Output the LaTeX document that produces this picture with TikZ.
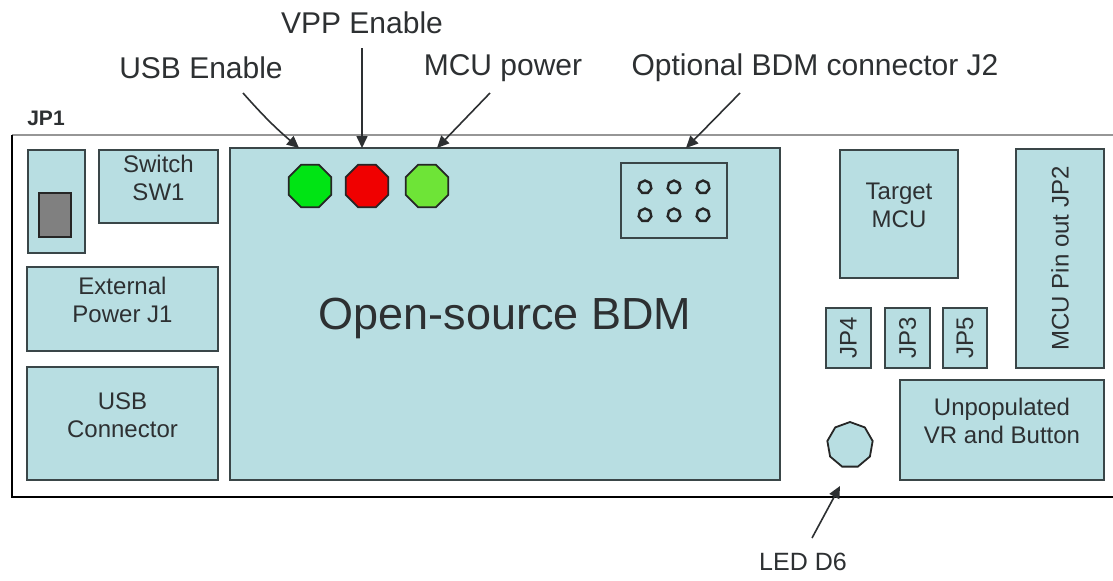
\documentclass[tikz,border=0pt]{standalone}
\usepackage{fontspec}
\setmainfont{Liberation Sans}
\usetikzlibrary{fit,shapes.geometric,arrows.meta,calc}
\definecolor{boxfill}{RGB}{184,222,226}
\definecolor{boxline}{RGB}{58,70,72}
\definecolor{txtc}{RGB}{45,48,50}
\definecolor{boardtop}{RGB}{150,150,150}
\definecolor{ledgreen}{RGB}{0,228,20}
\definecolor{ledred}{RGB}{240,0,0}
\definecolor{ledlime}{RGB}{110,228,55}
\definecolor{swgray}{RGB}{128,128,128}
\begin{document}
\begin{tikzpicture}[x=0.5pt,y=-0.5pt,
  comp/.style={draw=boxline, fill=boxfill, line width=1pt, inner sep=0pt, outer sep=0pt,
    align=center, text=txtc, font=\fontsize{12}{14}\selectfont},
  rotlbl/.style={rotate=90, text=txtc, font=\fontsize{12}{14}\selectfont},
  lbl/.style={text=txtc, font=\fontsize{15}{18}\selectfont, inner sep=1pt},
  led/.style={regular polygon, regular polygon sides=8, minimum size=23pt, draw=black!85, line width=0.9pt, inner sep=0pt},
  pin/.style={regular polygon, regular polygon sides=7, minimum size=6.5pt, inner sep=0pt, draw=black!85, line width=1.2pt, fill=boxfill},
  arr/.style={draw=txtc, line width=0.8pt, -{Triangle[length=6pt,width=5.5pt]}}]
\useasboundingbox (0,0) rectangle (1113,580);
\fill[white] (0,0) rectangle (1113,580);
% board outline
\coordinate (btl) at (12,135);
\coordinate (btr) at (1113,135);
\coordinate (bbl) at (12,497);
\coordinate (bbr) at (1113,497);
\draw[boardtop, line width=1pt] (btl) -- (btr);
\draw[black, line width=1pt] (btl) -- (bbl) -- (bbr);
\node[font=\bfseries\fontsize{10.5}{12}\selectfont, text=txtc] (jp1l) at (46,118) {JP1};
% left column
\node[comp, fit={(28,150) (85,253)}] (jp1) {};
\node[draw=black!85, fill=swgray, line width=1pt, inner sep=0pt, fit={(39,193) (71,237)}] (jp1k) {};
\node[comp, fit={(99,150) (218,223)}] (sw1) {Switch\\SW1};
\node[comp, fit={(27,267) (218,351)}] (j1) {External\\Power J1};
\node[comp, fit={(27,367) (218,480)}] (usb) {USB\\Connector};
% BDM
\node[comp, fit={(230,148) (780,480)}] (bdm) {};
\node[text=txtc, font=\fontsize{22.5}{26}\selectfont] (bdml) at (505,318) {Open-source BDM};
\node[led, fill=ledgreen] (ledA) at (310,186) {};
\node[led, fill=ledred] (ledB) at (367,186) {};
\node[led, fill=ledlime] (ledC) at (427,186) {};
\node[comp, fit={(621,163) (727,238)}] (j2) {};
\foreach \i/\x in {1/645,2/674,3/703}{
  \node[pin] (pa\i) at (\x,187) {};
  \node[pin] (pb\i) at (\x,215) {};
}
% right part
\node[comp, fit={(840,150) (958,278)}] (mcu) {Target\\MCU};
\node[comp, fit={(1016,149) (1104,368)}] (jp2) {};
\node[rotlbl] (jp2l) at (jp2.center) {MCU Pin out JP2};
\node[comp, fit={(826,308) (871,368)}] (jp4) {};
\node[rotlbl] at (jp4.center) {JP4};
\node[comp, fit={(885,308) (930,368)}] (jp3) {};
\node[rotlbl] at (jp3.center) {JP3};
\node[comp, fit={(943,308) (987,368)}] (jp5) {};
\node[rotlbl] at (jp5.center) {JP5};
\node[comp, fit={(900,380) (1104,480)}] (vr) {Unpopulated\\VR and Button};
\node[regular polygon, regular polygon sides=9, minimum size=23pt, draw=black!85, line width=0.9pt, fill=boxfill] (d6) at (850,445) {};
% labels
\node[lbl] (vppl) at (362,23) {VPP Enable};
\node[lbl] (usbl) at (201,68) {USB Enable};
\node[lbl] (mcul) at (503,68) {MCU power};
\node[lbl] (bdmconl) at (815,68) {Optional BDM connector J2};
\node[text=txtc, font=\fontsize{12.5}{14}\selectfont] (d6l) at (803,562) {LED D6};
% arrows
\coordinate (usbS) at (243,93);
\coordinate (usbE) at (299,148);
\coordinate (vppS) at (362,48);
\coordinate (vppE) at (362,148);
\coordinate (mcuS) at (490,93);
\coordinate (mcuE) at (437,148);
\coordinate (j2S) at (740,93);
\coordinate (j2E) at (686,148);
\coordinate (d6S) at (812,538);
\coordinate (d6E) at (840,486);
\draw[arr] (usbS) to[bend right=4] (usbE);
\draw[arr] (vppS) -- (vppE);
\draw[arr] (mcuS) -- (mcuE);
\draw[arr] (j2S) -- (j2E);
\draw[arr] (d6S) -- (d6E);
\end{tikzpicture}
\end{document}
